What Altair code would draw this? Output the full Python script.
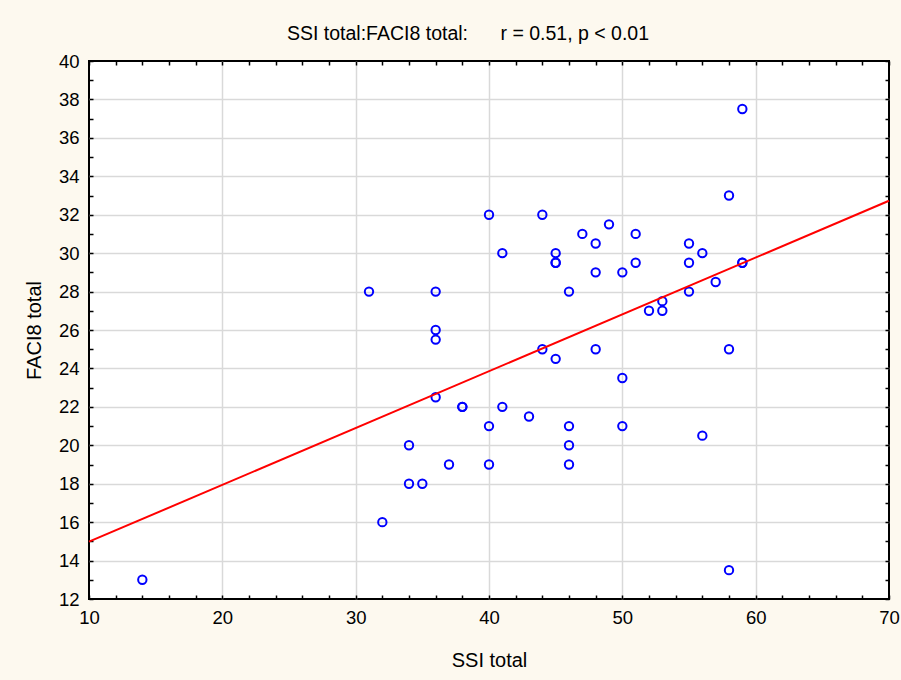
import altair as alt
import pandas as pd

# SSI total (x) and FACI8 total (y), one entry per plotted point
ssi = [14, 31, 32, 34, 34, 35, 36, 36, 36, 36, 37, 38, 38, 40, 40, 40, 41, 41, 43,
       44, 44, 45, 45, 45, 45, 46, 46, 46, 46, 47, 48, 48, 48, 49, 50, 50, 50,
       51, 51, 52, 53, 53, 55, 55, 55, 56, 56, 57, 58, 58, 58, 59, 59, 59]
faci = [13, 28, 16, 20, 18, 18, 28, 26, 25.5, 22.5, 19, 22, 22, 32, 21, 19, 30, 22, 21.5,
        32, 25, 30, 29.5, 29.5, 24.5, 28, 21, 20, 19, 31, 30.5, 29, 25, 31.5, 29, 23.5, 21,
        31, 29.5, 27, 27.5, 27, 30.5, 29.5, 28, 30, 20.5, 28.5, 33, 25, 13.5, 37.5, 29.5, 29.5]

x_major = [10, 20, 30, 40, 50, 60, 70]
x_minor = list(range(10, 71, 2))
y_major = list(range(12, 41, 2))
y_minor = list(range(12, 41, 1))

title_text = "SSI total:FACI8 total:" + "\u00a0" * 6 + "r = 0.51, p < 0.01"

df = pd.DataFrame({"ssi": ssi, "faci": faci})

FONT = "Liberation Sans"
GRID = "#D9D9D9"

xs = alt.Scale(domain=[10, 70], nice=False, zero=False)
ys = alt.Scale(domain=[12, 40], nice=False, zero=False)

x_main = alt.Axis(
    orient="bottom", values=x_major, grid=True, gridColor=GRID, gridWidth=1.5,
    gridOpacity={"condition": {"test": "datum.value <= 10 || datum.value >= 70", "value": 0}, "value": 1},
    ticks=False, tickSize=0, domain=False, labelFontSize=18.5, labelColor="black",
    labelPadding=9, labelFlush=False, labelOverlap=False,
    title="SSI total", titleFontSize=20, titleFontWeight="normal", titleColor="black",
    titlePadding=24,
)
y_main = alt.Axis(
    orient="left", values=y_major, grid=True, gridColor=GRID, gridWidth=1.5,
    gridOpacity={"condition": {"test": "datum.value <= 12 || datum.value >= 40", "value": 0}, "value": 1},
    ticks=False, tickSize=0, domain=False, labelFontSize=18.5, labelColor="black",
    labelPadding=10, labelFlush=False, labelOverlap=False,
    title="FACI8 total", titleFontSize=20, titleFontWeight="normal", titleColor="black",
    titlePadding=14,
)


def tick_axis(orient, values):
    return alt.Axis(orient=orient, values=values, labels=False, grid=False, domain=False,
                    ticks=True, tickSize=4, tickWidth=1.5, tickColor="black", offset=-4,
                    title=None)


base = alt.Chart(df)

pts = base.mark_point(shape="circle", filled=False, color="#0000FF", size=70,
                      strokeWidth=2, opacity=1).encode(
    x=alt.X("ssi:Q", scale=xs, axis=x_main),
    y=alt.Y("faci:Q", scale=ys, axis=y_main),
)

reg = base.transform_regression("ssi", "faci", extent=[10, 70]).mark_line(
    color="#FF0000", strokeWidth=2).encode(
    x=alt.X("ssi:Q", scale=xs, axis=None),
    y=alt.Y("faci:Q", scale=ys, axis=None),
)

t1 = base.mark_point(opacity=0).encode(
    x=alt.X("ssi:Q", scale=xs, axis=tick_axis("bottom", x_minor)),
    y=alt.Y("faci:Q", scale=ys, axis=tick_axis("left", y_minor)),
)
t2 = base.mark_point(opacity=0).encode(
    x=alt.X("ssi:Q", scale=xs, axis=tick_axis("top", x_minor)),
    y=alt.Y("faci:Q", scale=ys, axis=tick_axis("right", y_minor)),
)

chart = alt.layer(pts, reg, t1, t2).resolve_axis(
    x="independent", y="independent"
).properties(
    width=800, height=538,
    padding={"left": 89, "top": 61, "right": 12, "bottom": 81},
    autosize=alt.AutoSizeParams(type="none"),
    background="#FDF9EF",
    title=alt.TitleParams(text=title_text, fontSize=19.5, fontWeight="normal", color="black",
                          anchor="middle", dx=-21, offset=-7, baseline="alphabetic"),
).configure(font=FONT).configure_view(stroke="black", strokeWidth=2, fill="white")

chart.save("out.html", embed_options={"renderer": "svg", "actions": False})
